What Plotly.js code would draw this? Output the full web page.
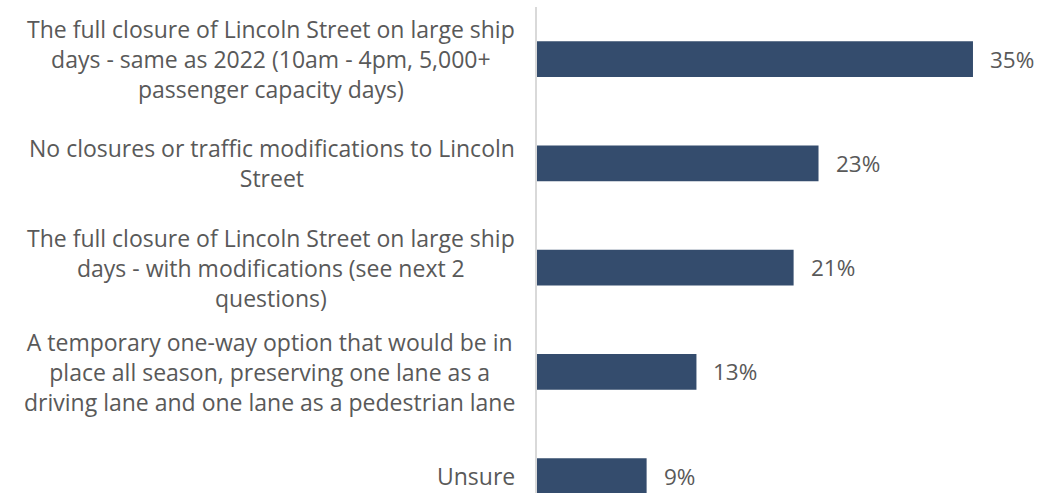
<!DOCTYPE html>
<html>
<head>
<meta charset="utf-8">
<script src="https://cdn.plot.ly/plotly-3.0.1.min.js"></script>
<style>html,body{margin:0;padding:0;background:#fff;}#chart{width:1040px;height:493px;}</style>
</head>
<body>
<div id="chart"></div>
<script>
const categories = [
  "The full closure of Lincoln Street on large ship<br>days - same as 2022 (10am - 4pm, 5,000+<br>passenger capacity days)",
  "No closures or traffic modifications to Lincoln<br>Street",
  "The full closure of Lincoln Street on large ship<br>days - with modifications (see next 2<br>questions)",
  "A temporary one-way option that would be in<br>place all season, preserving one lane as a<br>driving lane and one lane as a pedestrian lane",
  "Unsure"
];
// bar lengths (unrounded shares)
const values = [35.0, 22.6, 20.6, 12.8, 8.8];
const valueLabels = ["35%", "23%", "21%", "13%", "9%"];

const idx = categories.map((_, i) => i);
const textColor = "#595959";
const fontFamily = "'Open Sans', sans-serif";

const trace = {
  type: "bar",
  orientation: "h",
  x: values,
  y: idx,
  marker: {color: "#344C6D"},
  hoverinfo: "none"
};

const annotations = categories.map((c, i) => ({
  xref: "paper", yref: "y",
  x: -0.04, y: i,
  xanchor: "right", yanchor: "middle",
  text: c, showarrow: false, align: "center",
  font: {family: fontFamily, size: 23, color: textColor}
})).concat(values.map((v, i) => ({
  xref: "x", yref: "y",
  x: v, y: i, xshift: 15,
  xanchor: "left", yanchor: "middle",
  text: valueLabels[i], showarrow: false,
  font: {family: fontFamily, size: 22.5, color: textColor}
})));

const layout = {
  width: 1040, height: 493,
  margin: {l: 537, r: 0, t: 7, b: 0, pad: 0},
  paper_bgcolor: "#fff", plot_bgcolor: "#fff",
  showlegend: false,
  bargap: 0.655,
  xaxis: {range: [0, 40.38], showgrid: false, zeroline: false, showticklabels: false, showline: false, ticks: ""},
  yaxis: {range: [4.162, -0.5], showgrid: false, zeroline: false, showticklabels: false, ticks: "",
          showline: true, linecolor: "#d9d9d9", linewidth: 2},
  annotations: annotations
};

Plotly.newPlot("chart", [trace], layout, {staticPlot: true, displayModeBar: false});
</script>
</body>
</html>
